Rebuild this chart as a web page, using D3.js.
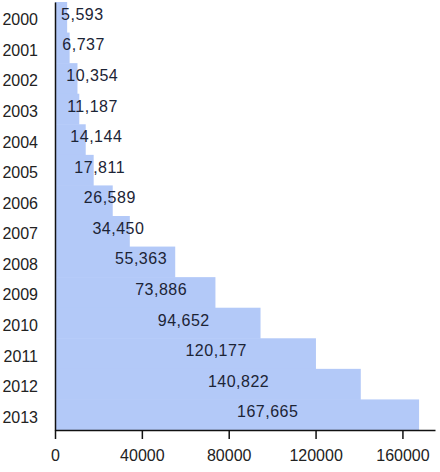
<!DOCTYPE html>
<html>
<head>
<meta charset="utf-8">
<script src="https://cdn.jsdelivr.net/npm/d3@7"></script>
<style>
body { margin: 0; background: #fff; }
text { font-family: "Liberation Sans", Arial, sans-serif; }
</style>
</head>
<body>
<div id="chart"></div>
<script>
var years = ["2000","2001","2002","2003","2004","2005","2006","2007","2008","2009","2010","2011","2012","2013"];
var counts = [5593, 6737, 10354, 11187, 14144, 17811, 26589, 34450, 55363, 73886, 94652, 120177, 140822, 167665];
var xTicks = [0, 40000, 80000, 120000, 160000];

var width = 440, height = 472;
var data = years.map((y, i) => ({year: y, value: counts[i]}));

var svg = d3.select("#chart").append("svg")
	.attr("width", width)
	.attr("height", height);

var x = d3.scaleLinear().domain([0, 175000]).range([55, 435]);
var y = d3.scaleBand().domain(years).range([2, 430]).padding(0);

// bars
svg.append("g").selectAll("rect")
	.data(data)
	.enter().append("rect")
	.attr("x", x(0))
	.attr("y", d => y(d.year))
	.attr("width", d => x(d.value) - x(0))
	.attr("height", y.bandwidth() + 0.5)
	.attr("fill", "#b3c9f8");

// value labels, start at the middle of each bar
svg.append("g").selectAll("text")
	.data(data)
	.enter().append("text")
	.attr("x", d => x(d.value / 2))
	.attr("y", d => y(d.year) + y.bandwidth() / 2 - 3)
	.attr("dy", "0.35em")
	.attr("font-size", 16)
	.attr("letter-spacing", "0.5px")
	.attr("fill", "#1c2436")
	.text(d => d3.format(",")(d.value));

// x axis
var xAxis = svg.append("g")
	.attr("transform", "translate(0,430)")
	.call(d3.axisBottom(x).tickValues(xTicks).tickFormat(d3.format("d")).tickSize(9).tickSizeOuter(0).tickPadding(11));
xAxis.select(".domain").attr("stroke", "#111").attr("stroke-width", 1.5);
xAxis.selectAll(".tick line").attr("stroke", "#111").attr("stroke-width", 1.5);
xAxis.selectAll("text").attr("font-size", 16).attr("fill", "#222");

// y axis
var yAxis = svg.append("g")
	.attr("transform", "translate(55,0)")
	.call(d3.axisLeft(y).tickSize(0).tickPadding(17));
yAxis.select(".domain").attr("stroke", "#111").attr("stroke-width", 1.5);
yAxis.selectAll("text").attr("font-size", 16).attr("fill", "#222").attr("dy", "0.5em");
</script>
</body>
</html>
